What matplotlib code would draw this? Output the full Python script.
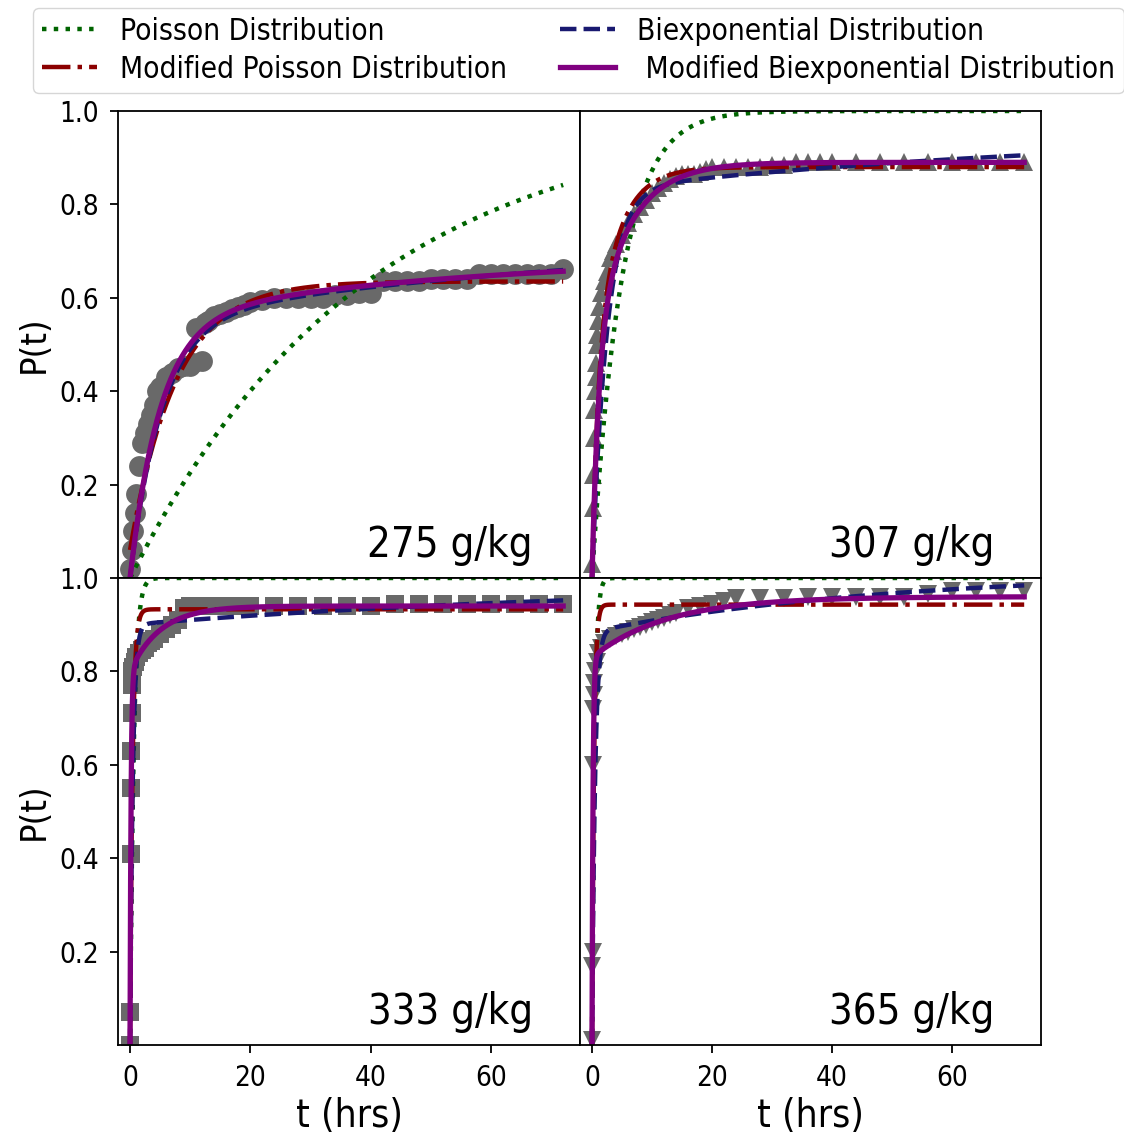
import numpy as np
import matplotlib
matplotlib.use("Agg")
import matplotlib.pyplot as plt
from matplotlib.lines import Line2D

plt.rcParams["font.family"] = ["DejaVu Sans"]
plt.rcParams["font.stretch"] = "condensed"

# ---------------- measured release fractions ----------------
concentrations = ["275 g/kg", "307 g/kg", "333 g/kg", "365 g/kg"]
marker_shapes = ["o", "^", "s", "v"]
marker_sizes = [15, 13, 13, 13]

t_275 = [0, 0.25, 0.5, 0.75, 1, 1.5, 2, 2.5, 3, 3.5, 4, 4.5, 5, 6, 7, 8, 9, 10,
         10.5, 11, 12, 12.5, 13, 14, 15, 16, 17, 18, 19, 20, 22, 24, 26, 28, 30,
         32, 34, 36, 38, 40, 42, 44, 46, 48, 50, 52, 54, 56, 58, 60, 62, 64, 66,
         68, 70, 72]
p_275 = [0.02, 0.06, 0.10, 0.14, 0.18, 0.24, 0.29, 0.31, 0.33, 0.35, 0.37, 0.40,
         0.41, 0.43, 0.44, 0.45, 0.455, 0.455, 0.46, 0.535, 0.465, 0.545, 0.55,
         0.56, 0.565, 0.57, 0.575, 0.58, 0.585, 0.59, 0.595, 0.60, 0.60, 0.60,
         0.60, 0.60, 0.605, 0.605, 0.61, 0.61, 0.635, 0.635, 0.635, 0.635, 0.64,
         0.64, 0.64, 0.64, 0.65, 0.65, 0.65, 0.65, 0.65, 0.65, 0.65, 0.662]

t_307 = [0, 0.1, 0.2, 0.3, 0.4, 0.5, 0.6, 0.7, 0.8, 0.9, 1.0, 1.2, 1.5, 2, 2.5,
         3, 3.5, 4, 5, 6, 7, 8, 9, 10, 11, 12, 13, 14, 15, 16, 17, 18, 19, 20,
         22, 24, 26, 28, 30, 32, 34, 36, 38, 40, 44, 48, 52, 56, 60, 64, 68, 72]
p_307 = [0.03, 0.15, 0.22, 0.30, 0.36, 0.40, 0.43, 0.46, 0.50, 0.52, 0.55, 0.58,
         0.61, 0.635, 0.655, 0.685, 0.70, 0.715, 0.735, 0.76, 0.78, 0.795, 0.81,
         0.825, 0.835, 0.845, 0.855, 0.86, 0.865, 0.865, 0.865, 0.87, 0.875,
         0.88, 0.88, 0.88, 0.88, 0.88, 0.885, 0.885, 0.89, 0.89, 0.89, 0.89,
         0.89, 0.89, 0.89, 0.89, 0.89, 0.89, 0.89, 0.89]

t_333 = [0, 0.05, 0.1, 0.15, 0.2, 0.25, 0.3, 0.4, 0.5, 0.75, 1, 1.5, 2, 2.5, 3,
         3.5, 4, 5, 6, 7, 8, 9, 10, 12, 14, 16, 18, 20, 24, 28, 32, 36, 40, 44,
         48, 52, 56, 60, 64, 68, 72]
p_333 = [0.0, 0.07, 0.41, 0.55, 0.63, 0.71, 0.77, 0.80, 0.81, 0.82, 0.83, 0.84,
         0.845, 0.85, 0.86, 0.865, 0.87, 0.88, 0.89, 0.90, 0.91, 0.935, 0.94,
         0.94, 0.94, 0.94, 0.94, 0.94, 0.94, 0.94, 0.94, 0.94, 0.94, 0.945,
         0.945, 0.945, 0.945, 0.945, 0.945, 0.945, 0.945]

t_365 = [0, 0.05, 0.1, 0.15, 0.2, 0.3, 0.4, 0.5, 0.75, 1, 1.5, 2, 3, 4, 5, 6, 7,
         8, 9, 10, 11, 12, 13, 14, 16, 18, 20, 22, 24, 28, 32, 36, 40, 44, 48,
         52, 56, 60, 64, 68, 72]
p_365 = [0.01, 0.17, 0.20, 0.60, 0.72, 0.75, 0.775, 0.80, 0.82, 0.84, 0.85,
         0.86, 0.87, 0.875, 0.88, 0.885, 0.89, 0.895, 0.90, 0.905, 0.91, 0.915,
         0.92, 0.925, 0.935, 0.94, 0.945, 0.95, 0.958, 0.958, 0.958, 0.96, 0.96,
         0.96, 0.96, 0.96, 0.965, 0.972, 0.972, 0.972, 0.972]

times = [t_275, t_307, t_333, t_365]
fractions = [p_275, p_307, p_333, p_365]

# ---------------- fitted model parameters ----------------
# each fit: P(t) = P0 + A1 (1 - exp(-k1 t)) + A2 (1 - exp(-k2 t))
# tuples are (P0, A1, k1, A2, k2), one per concentration
poisson_fit = [(0.0, 1.0, 0.0256, 0.0, 0.0),
               (0.0, 1.0, 0.206, 0.0, 0.0),
               (0.0, 1.0, 1.63, 0.0, 0.0),
               (0.0, 1.0, 2.4, 0.0, 0.0)]
mod_poisson_fit = [(0.06, 0.575, 0.13, 0.0, 0.0),
                   (0.0, 0.45, 1.0, 0.43, 0.25),
                   (0.0, 0.933, 2.4, 0.0, 0.0),
                   (0.0, 0.943, 3.0, 0.0, 0.0)]
biexp_fit = [(0.0, 0.55, 0.19, 0.18, 0.013),
             (0.0, 0.83, 0.40, 0.13, 0.012),
             (0.0, 0.90, 2.2, 0.09, 0.012),
             (0.0, 0.885, 2.0, 0.13, 0.02)]
mod_biexp_fit = [(0.0, 0.55, 0.20, 0.14, 0.02),
                 (0.0, 0.50, 0.90, 0.39, 0.17),
                 (0.0, 0.80, 6.0, 0.14, 0.20),
                 (0.0, 0.83, 6.0, 0.13, 0.08)]

model_names = ["Poisson Distribution", "Modified Poisson Distribution",
               "Biexponential Distribution", " Modified Biexponential Distribution"]
t_end = 72.0


def release(t, p):
    p0, a1, k1, a2, k2 = p
    return p0 + a1 * (1 - np.exp(-k1 * t)) + a2 * (1 - np.exp(-k2 * t))


styles = [dict(color="darkgreen", linestyle=":", linewidth=3.2),
          dict(color="darkred", linestyle="-.", linewidth=3.2),
          dict(color="midnightblue", linestyle="--", linewidth=3.2),
          dict(color="purple", linestyle="-", linewidth=3.8)]
fits = [poisson_fit, mod_poisson_fit, biexp_fit, mod_biexp_fit]

fig = plt.figure(figsize=(11.24, 11.36), dpi=100)
W, H = 1124.0, 1136.0
x_cols = [118, 580]
col_w = [462, 461]
y_rows = [578, 1045]
panel_h = 467

axes = []
for i in range(4):
    r, c = divmod(i, 2)
    ax = fig.add_axes([x_cols[c] / W, 1 - y_rows[r] / H, col_w[c] / W, panel_h / H])
    axes.append(ax)

tgrid = np.linspace(0, t_end, 3000)
for i, ax in enumerate(axes):
    r, c = divmod(i, 2)
    ax.plot(times[i], fractions[i], linestyle="none", marker=marker_shapes[i],
            markersize=marker_sizes[i], color="dimgray", markeredgewidth=0, zorder=1)
    for fit, st in zip(fits, styles):
        ax.plot(tgrid, release(tgrid, fit[i]), zorder=2, **st)
    ax.set_xlim(-2, 74.8)
    ax.set_ylim(0, 1.0)
    ax.text(0.898, 0.045, concentrations[i], transform=ax.transAxes,
            ha="right", va="baseline", fontsize=30)
    for s in ax.spines.values():
        s.set_linewidth(1.3)
    ax.tick_params(direction="out", length=5.5, width=1.3, pad=8, labelsize=20)
    if c == 0:
        ax.set_yticks([0.2, 0.4, 0.6, 0.8, 1.0])
        ax.set_ylabel("P(t)", fontsize=26, labelpad=6)
    else:
        ax.set_yticks([])
    if r == 1:
        ax.set_xticks([0, 20, 40, 60])
        ax.set_xlabel("t (hrs)", fontsize=28, labelpad=4)
    else:
        ax.set_xticks([])

handles = [Line2D([], [], **st) for st in styles]
fig.legend(handles, model_names, loc="upper center", ncol=2,
           bbox_to_anchor=(0.515, 0.993), borderaxespad=0, fontsize=21.4,
           handlelength=1.85, handletextpad=0.75, columnspacing=1.8,
           borderpad=0.3, labelspacing=0.3)

fig.savefig("out.png", dpi=100)
